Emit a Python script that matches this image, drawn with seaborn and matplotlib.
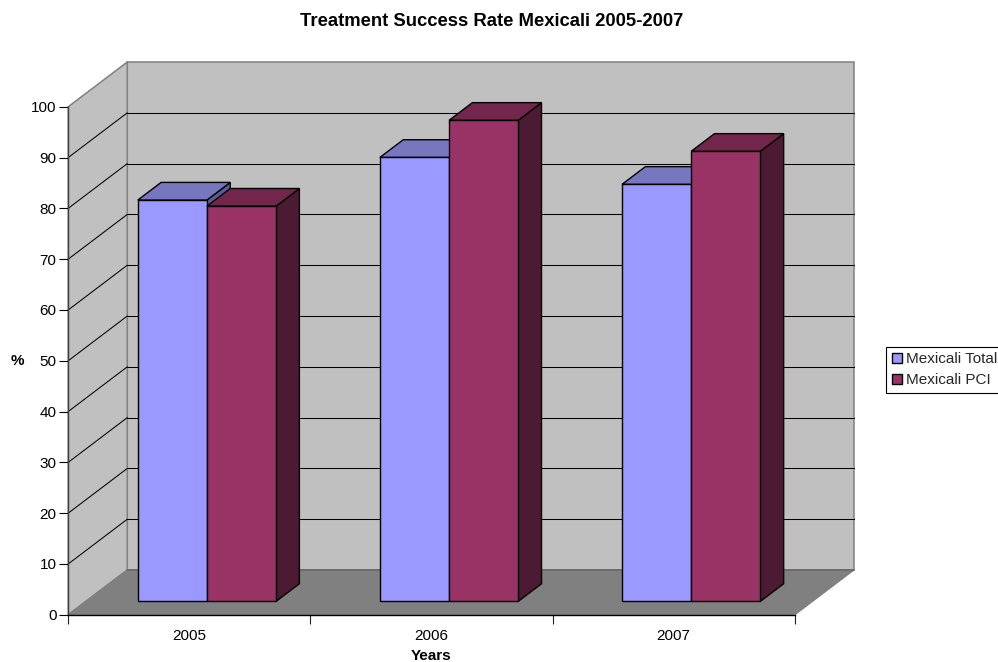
import matplotlib
matplotlib.use("Agg")
import matplotlib.pyplot as plt
import pandas as pd
import seaborn as sns
from matplotlib.lines import Line2D
from matplotlib.patches import Polygon
from matplotlib.transforms import IdentityTransform, Affine2D

years = ["2005", "2006", "2007"]
series_names = ["Mexicali Total", "Mexicali PCI"]
total_values = [79.0, 87.4, 82.1]
pci_values = [77.8, 94.7, 88.6]
y_ticks = [0, 10, 20, 30, 40, 50, 60, 70, 80, 90, 100]

front_colors = ["#9999FF", "#993366"]
top_colors = ["#7777BF", "#72264C"]
side_colors = ["#5C5C99", "#4D1A33"]

sns.set_style("white")
plt.rcParams["font.family"] = ["Liberation Sans", "DejaVu Sans"]

W, H = 998, 662
fig = plt.figure(figsize=(W / 100, H / 100), dpi=100)
ax = fig.add_axes([68.3 / W, (H - 614.7) / H, 726.4 / W, 508 / H])

table = pd.DataFrame({
    "year": years * 2,
    "series": [series_names[0]] * 3 + [series_names[1]] * 3,
    "rate": total_values + pci_values,
})
sns.barplot(data=table, x="year", y="rate", hue="series", order=years,
            hue_order=series_names, palette=front_colors, width=0.571, gap=0,
            saturation=1, edgecolor="black", linewidth=1.0, err_kws={"linewidth": 0}, ax=ax)
ax.set_xlim(-0.5, 2.5)
ax.set_ylim(0, 100)
fig.canvas.draw()

# Oblique projection: depth 1 is the back wall, offset in output pixels.
DEPTH_X, DEPTH_Y = 59.0, 44.7
BAR_FRONT, BAR_BACK = 0.297, 0.693
display = IdentityTransform()


def project(x, y, depth=0.0):
    px, py = ax.transData.transform((x, y))
    return px + depth * DEPTH_X, py + depth * DEPTH_Y


def face(points, color, edge, lw, z):
    ax.add_patch(Polygon(points, closed=True, facecolor=color, edgecolor=edge, linewidth=lw,
                         transform=display, clip_on=False, zorder=z, joinstyle="miter"))


def segment(a, b, color, lw, z):
    ax.add_line(Line2D([a[0], b[0]], [a[1], b[1]], color=color, linewidth=lw,
                       transform=display, clip_on=False, zorder=z))


x0, x1 = ax.get_xlim()
y0, y1 = ax.get_ylim()
WALL = "#C0C0C0"
FLOOR = "#808080"
EDGE = "#808080"

# Walls and floor
face([project(x0, y0, 1), project(x1, y0, 1), project(x1, y1, 1), project(x0, y1, 1)], WALL, EDGE, 1.1, 0.2)
face([project(x0, y0, 0), project(x0, y0, 1), project(x0, y1, 1), project(x0, y1, 0)], WALL, EDGE, 1.1, 0.3)
face([project(x0, y0, 0), project(x1, y0, 0), project(x1, y0, 1), project(x0, y0, 1)], FLOOR, EDGE, 1.1, 0.4)
segment(project(x0, y0, 1), project(x1, y0, 1), "#666666", 1.1, 0.5)

# Gridlines run along the side wall and across the back wall
for v in y_ticks[1:-1]:
    segment(project(x0, v, 0), project(x0, v, 1), "black", 0.75, 0.6)
    segment(project(x0, v, 1), project(x1, v, 1), "black", 0.75, 0.6)

# Bars: seaborn supplies the front faces, each box gets its top and side
shift = Affine2D().translate(BAR_FRONT * DEPTH_X, BAR_FRONT * DEPTH_Y)
legend_handles, legend_labels = ax.get_legend_handles_labels()
ax.get_legend().remove()
for i in range(len(years)):
    for s, container in enumerate(ax.containers):
        bar = container.patches[i]
        left, right = bar.get_x(), bar.get_x() + bar.get_width()
        top = bar.get_height()
        z = 2 + i + s * 0.3
        face([project(right, 0, BAR_FRONT), project(right, 0, BAR_BACK),
              project(right, top, BAR_BACK), project(right, top, BAR_FRONT)],
             side_colors[s], "black", 1.0, z)
        face([project(left, top, BAR_FRONT), project(right, top, BAR_FRONT),
              project(right, top, BAR_BACK), project(left, top, BAR_BACK)],
             top_colors[s], "black", 1.0, z + 0.01)
        bar.set_transform(ax.transData + shift)
        bar.set_clip_on(False)
        bar.set_zorder(z + 0.02)

# Axes furniture
for side in ["top", "right"]:
    ax.spines[side].set_visible(False)
ax.spines["left"].set_color("#404040")
ax.spines["left"].set_linewidth(1.0)
ax.spines["bottom"].set_color("black")
ax.spines["bottom"].set_linewidth(1.0)
ax.spines["left"].set_zorder(1)
ax.spines["bottom"].set_zorder(1)

ax.set_yticks(y_ticks)
ax.set_yticklabels([str(v) for v in y_ticks])
ax.set_xticks(range(len(years)))
ax.set_xticklabels(years)
ax.set_xticks([-0.5, 0.5, 1.5, 2.5], minor=True)
ax.tick_params(axis="y", which="major", left=True, length=6.5, width=0.8, color="black", labelsize=11, pad=2, labelcolor="black")
ax.tick_params(axis="x", which="major", bottom=False, length=0, labelsize=11, pad=10.5, labelcolor="black")
ax.tick_params(axis="x", which="minor", bottom=True, length=6.5, width=0.8, color="#202020")

ax.set_xlabel("Years", fontsize=11, fontweight="bold", color="black", va="center")
ax.xaxis.set_label_coords((431.5 - 68.3) / 726.4, (614.7 - 656) / 508)
ax.set_ylabel("%", fontsize=11, fontweight="bold", rotation=0, color="black", va="center", ha="center")
ax.yaxis.set_label_coords((17 - 68.3) / 726.4, (614.7 - 361) / 508)

fig.text(492 / W, 1 - 22 / H, "Treatment Success Rate Mexicali 2005-2007",
         fontsize=13.3, fontweight="bold", ha="center", va="center", color="black")

legend = fig.legend(legend_handles, legend_labels, loc="upper left",
                    bbox_to_anchor=(886.3 / W, 1 - 347 / H), borderaxespad=0,
                    fontsize=11, frameon=True, fancybox=False, framealpha=1, edgecolor="black",
                    handlelength=0.66, handleheight=0.66, handletextpad=0.25, labelspacing=0.46,
                    borderpad=0.35)
legend.get_frame().set_linewidth(0.8)

fig.savefig("out.png", dpi=100, facecolor="white")
